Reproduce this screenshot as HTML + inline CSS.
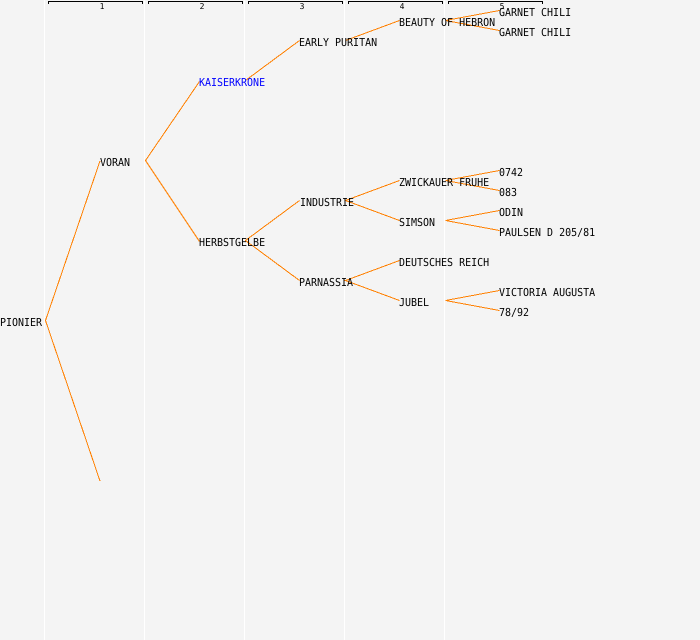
<!DOCTYPE html>
<html>
<head>
<meta charset="utf-8">
<style>
html,body{margin:0;padding:0;background:#f4f4f4;width:700px;height:640px;overflow:hidden}
svg{display:block}
text{font-family:"DejaVu Sans Mono","Liberation Mono",monospace;font-size:11px;fill:#000;-webkit-font-smoothing:none;text-rendering:geometricPrecision}
.n{font-size:8px;text-anchor:middle}
</style>
</head>
<body>
<svg width="700" height="640" viewBox="0 0 700 640" xmlns="http://www.w3.org/2000/svg">
<rect width="700" height="640" fill="#f4f4f4"/>
<g stroke="#ffffff" stroke-width="1" shape-rendering="crispEdges">
<line x1="44.5" y1="0" x2="44.5" y2="640"/>
<line x1="144.5" y1="0" x2="144.5" y2="640"/>
<line x1="244.5" y1="0" x2="244.5" y2="640"/>
<line x1="344.5" y1="0" x2="344.5" y2="640"/>
<line x1="444.5" y1="0" x2="444.5" y2="640"/>
</g>
<g fill="none" stroke="#000" stroke-width="1" shape-rendering="crispEdges">
<path d="M48.5 4V1.5H142.5V4"/>
<path d="M148.5 4V1.5H242.5V4"/>
<path d="M248.5 4V1.5H342.5V4"/>
<path d="M348.5 4V1.5H442.5V4"/>
<path d="M448.5 4V1.5H542.5V4"/>
</g>
<g fill="none" stroke="#ff8000" stroke-width="1" shape-rendering="crispEdges">
<path d="M100 161L45.5 320.5L100 481"/>
<path d="M199.5 81.5L145.5 160.5L199.5 241.5"/>
<path d="M299.5 40.5L245.5 80.5"/>
<path d="M299.5 200.5L245.5 240.5L299.5 280.5"/>
<path d="M399.5 20.5L345.5 40.5"/>
<path d="M399.5 180.5L345.5 200.5L399.5 220.5"/>
<path d="M399.5 260.5L345.5 280.5L399.5 300.5"/>
<path d="M499.5 10.5L445.5 20.5L499.5 30.5"/>
<path d="M499.5 170.5L445.5 180.5L499.5 190.5"/>
<path d="M499.5 210.5L445.5 220.5L499.5 230.5"/>
<path d="M499.5 290.5L445.5 300.5L499.5 310.5"/>
</g>
<text class="n" x="102" y="9">1</text>
<text class="n" x="202" y="9">2</text>
<text class="n" x="302" y="9">3</text>
<text class="n" x="402" y="9">4</text>
<text class="n" x="502" y="9">5</text>
<text transform="translate(0,326) scale(.907,1)">PIONIER</text>
<text transform="translate(100,166) scale(.907,1)">VORAN</text>
<text transform="translate(199,86) scale(.907,1)" style="fill:#0000ff">KAISERKRONE</text>
<text transform="translate(199,246) scale(.907,1)">HERBSTGELBE</text>
<text transform="translate(299,46) scale(.907,1)">EARLY PURITAN</text>
<text transform="translate(300,206) scale(.907,1)">INDUSTRIE</text>
<text transform="translate(299,286) scale(.907,1)">PARNASSIA</text>
<text transform="translate(399,26) scale(.907,1)">BEAUTY OF HEBRON</text>
<text transform="translate(399,186) scale(.907,1)">ZWICKAUER FRUHE</text>
<text transform="translate(399,226) scale(.907,1)">SIMSON</text>
<text transform="translate(399,266) scale(.907,1)">DEUTSCHES REICH</text>
<text transform="translate(399,306) scale(.907,1)">JUBEL</text>
<text transform="translate(499,16) scale(.907,1)">GARNET CHILI</text>
<text transform="translate(499,36) scale(.907,1)">GARNET CHILI</text>
<text transform="translate(499,176) scale(.907,1)">0742</text>
<text transform="translate(499,196) scale(.907,1)">083</text>
<text transform="translate(499,216) scale(.907,1)">ODIN</text>
<text transform="translate(499,236) scale(.907,1)">PAULSEN D 205/81</text>
<text transform="translate(499,296) scale(.907,1)">VICTORIA AUGUSTA</text>
<text transform="translate(499,316) scale(.907,1)">78/92</text>
</svg>
</body>
</html>
